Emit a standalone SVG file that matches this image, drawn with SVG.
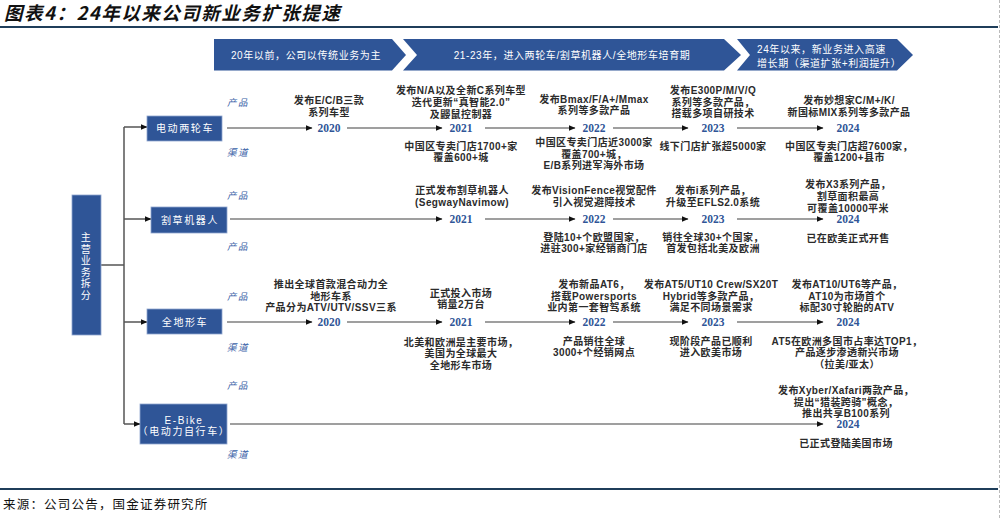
<svg xmlns="http://www.w3.org/2000/svg" width="1001" height="519" viewBox="0 0 1001 519">
<defs>
<style>
.t{font-family:"Liberation Sans","Noto Sans CJK SC",sans-serif;font-size:10px;font-weight:bold;fill:#2b2b2b;text-anchor:middle;letter-spacing:0.4px}
.yr{font-family:"Liberation Serif","Noto Sans CJK SC",serif;font-size:11.5px;font-weight:bold;fill:#2F5597;text-anchor:middle}
.lb{font-family:"Noto Sans CJK SC",sans-serif;font-size:9.5px;font-style:italic;fill:#3A62A7;text-anchor:middle;letter-spacing:1.5px}
.nd{fill:#2F5597;stroke:#8FA6CF;stroke-width:0.8}
.nt{font-family:"Liberation Sans","Noto Sans CJK SC",sans-serif;font-size:10px;fill:#fff;text-anchor:middle;letter-spacing:1.6px}
.bn{fill:#2F5597}
.bt{font-family:"Liberation Sans","Noto Sans CJK SC",sans-serif;font-size:10px;fill:#fff;letter-spacing:0.6px}
.ln{stroke:#7F7F7F;stroke-width:1.5;fill:none}
.tr{stroke:#555;stroke-width:1.5;fill:none}
</style>
<marker id="ah" markerUnits="userSpaceOnUse" markerWidth="7" markerHeight="7" refX="6.5" refY="3" orient="auto">
<path d="M0,0 L7,3 L0,6 z" fill="#111"/>
</marker>
</defs>
<rect width="1001" height="519" fill="#fff"/>
<text x="4" y="19.5" style="font-family:'Noto Sans CJK SC',sans-serif;font-size:18.5px;font-weight:bold;font-style:italic;fill:#111;letter-spacing:1.5px">图表4：24年以来公司新业务扩张提速</text>
<line x1="0" y1="27" x2="998" y2="27" stroke="#1F3E5A" stroke-width="2"/>
<line x1="0" y1="489" x2="998" y2="489" stroke="#1F3E5A" stroke-width="2"/>
<line x1="999.5" y1="0" x2="999.5" y2="519" stroke="#BBBBBB" stroke-width="1" stroke-dasharray="3,2"/>
<text x="3" y="509" style="font-family:'Noto Sans CJK SC',serif;font-size:12.5px;fill:#111;letter-spacing:1.2px">来源：公司公告，国金证券研究所</text>

<g id="banners">
<polygon class="bn" points="214,39 392,39 406,55 392,70.5 214,70.5"/>
<text class="bt" x="306" y="58.5" text-anchor="middle">20年以前，公司以传统业务为主</text>
<polygon class="bn" points="403,39 724,39 741,55 724,70.5 403,70.5 417,55"/>
<text class="bt" x="572" y="58.5" text-anchor="middle">21-23年，进入两轮车/割草机器人/全地形车培育期</text>
<polygon class="bn" points="737,39 897,39 913,55 897,70.5 737,70.5 750,55"/>
<text class="bt" x="757" y="53">24年以来，新业务进入高速</text>
<text class="bt" x="757" y="66.5">增长期（渠道扩张+利润提升）</text>
</g>

<g id="connectors">
<polyline class="tr" points="101,265 124,265"/>
<polyline class="tr" points="124,127 124,424"/>
<line class="tr" x1="124" y1="127" x2="147" y2="127" marker-end="url(#ah)"/>
<line class="tr" x1="124" y1="219" x2="151" y2="219" marker-end="url(#ah)"/>
<line class="tr" x1="124" y1="322" x2="147" y2="322" marker-end="url(#ah)"/>
<line class="tr" x1="124" y1="424" x2="140" y2="424" marker-end="url(#ah)"/>

<line class="ln" x1="227" y1="128" x2="312" y2="128" marker-end="url(#ah)"/>
<line class="ln" x1="347" y1="128" x2="442" y2="128" marker-end="url(#ah)"/>
<line class="ln" x1="485" y1="128" x2="575" y2="128" marker-end="url(#ah)"/>
<line class="ln" x1="613" y1="128" x2="688" y2="128" marker-end="url(#ah)"/>
<line class="ln" x1="737" y1="128" x2="823" y2="128" marker-end="url(#ah)"/>

<line class="ln" x1="230" y1="219" x2="442" y2="219" marker-end="url(#ah)"/>
<line class="ln" x1="485" y1="219" x2="575" y2="219" marker-end="url(#ah)"/>
<line class="ln" x1="613" y1="219" x2="688" y2="219" marker-end="url(#ah)"/>
<line class="ln" x1="737" y1="219" x2="823" y2="219" marker-end="url(#ah)"/>

<line class="ln" x1="227" y1="322" x2="312" y2="322" marker-end="url(#ah)"/>
<line class="ln" x1="347" y1="322" x2="442" y2="322" marker-end="url(#ah)"/>
<line class="ln" x1="485" y1="322" x2="575" y2="322" marker-end="url(#ah)"/>
<line class="ln" x1="613" y1="322" x2="688" y2="322" marker-end="url(#ah)"/>
<line class="ln" x1="737" y1="322" x2="823" y2="322" marker-end="url(#ah)"/>

<line class="ln" x1="230" y1="424" x2="823" y2="424" marker-end="url(#ah)"/>
</g>

<g id="node-main">
<rect class="nd" x="72" y="195" width="29" height="140"/>
<text class="nt" x="86.5" y="241" letter-spacing="0">主</text>
<text class="nt" x="86.5" y="252.5" letter-spacing="0">营</text>
<text class="nt" x="86.5" y="264" letter-spacing="0">业</text>
<text class="nt" x="86.5" y="275.5" letter-spacing="0">务</text>
<text class="nt" x="86.5" y="287" letter-spacing="0">拆</text>
<text class="nt" x="86.5" y="298.5" letter-spacing="0">分</text>
</g>

<g id="node-ev">
<rect class="nd" x="147" y="116" width="75" height="25"/>
<text class="nt" x="185" y="132">电动两轮车</text>
</g>
<g id="node-mower">
<rect class="nd" x="151" y="207" width="76" height="26"/>
<text class="nt" x="190" y="223.5">割草机器人</text>
</g>
<g id="node-atv">
<rect class="nd" x="147" y="309" width="75" height="25"/>
<text class="nt" x="185" y="325.5">全地形车</text>
</g>
<g id="node-ebike">
<rect class="nd" x="140" y="404" width="87" height="40"/>
<text class="nt" x="184" y="423.5">E-Bike</text>
<text class="nt" x="184" y="435" letter-spacing="1">（电动力自行车）</text>
</g>

<g id="row-labels">
<text class="lb" x="238" y="106">产品</text>
<text class="lb" x="238" y="156">渠道</text>
<text class="lb" x="238" y="199">产品</text>
<text class="lb" x="238" y="250">产品</text>
<text class="lb" x="238" y="300">产品</text>
<text class="lb" x="238" y="351">渠道</text>
<text class="lb" x="238" y="389">产品</text>
<text class="lb" x="238" y="458">渠道</text>
</g>

<g id="row-ev">
<text class="yr" x="329" y="132">2020</text>
<text class="t" x="329" y="103.5">发布E/C/B三款</text>
<text class="t" x="329" y="115.5">系列车型</text>
<text class="yr" x="461" y="132">2021</text>
<text class="t" x="461" y="93.5">发布N/A以及全新C系列车型</text>
<text class="t" x="461" y="105.5">迭代更新“真智能2.0”</text>
<text class="t" x="461" y="117.5">及鼹鼠控制器</text>
<text class="t" x="461" y="149.5">中国区专卖门店1700+家</text>
<text class="t" x="461" y="160.5">覆盖600+城</text>
<text class="yr" x="594" y="132">2022</text>
<text class="t" x="594" y="102.5">发布Bmax/F/A+/Mmax</text>
<text class="t" x="594" y="113.5">系列等多款产品</text>
<text class="t" x="594" y="145.5">中国区专卖门店近3000家</text>
<text class="t" x="594" y="157.5">覆盖700+城，</text>
<text class="t" x="594" y="168.5">E/B系列进军海外市场</text>
<text class="yr" x="713" y="132">2023</text>
<text class="t" x="713" y="93.5">发布E300P/M/V/Q</text>
<text class="t" x="713" y="105.5">系列等多款产品，</text>
<text class="t" x="713" y="116.5">搭载多项自研技术</text>
<text class="t" x="713" y="149.5">线下门店扩张超5000家</text>
<text class="yr" x="848" y="132">2024</text>
<text class="t" x="849" y="103.5">发布妙想家C/M+/K/</text>
<text class="t" x="849" y="115.5">新国标MIX系列等多款产品</text>
<text class="t" x="849" y="149.5">中国区专卖门店超7600家，</text>
<text class="t" x="849" y="160.5">覆盖1200+县市</text>
</g>

<g id="row-mower">
<text class="yr" x="461" y="223">2021</text>
<text class="t" x="462" y="193.5">正式发布割草机器人</text>
<text class="t" x="462" y="205.5">(SegwayNavimow)</text>
<text class="yr" x="594" y="223">2022</text>
<text class="t" x="594" y="193.5">发布VisionFence视觉配件</text>
<text class="t" x="594" y="205.5">引入视觉避障技术</text>
<text class="t" x="594" y="240.5">登陆10+个欧盟国家，</text>
<text class="t" x="594" y="251.5">进驻300+家经销商门店</text>
<text class="yr" x="713" y="223">2023</text>
<text class="t" x="713" y="193.5">发布i系列产品，</text>
<text class="t" x="713" y="205.5">升级至EFLS2.0系统</text>
<text class="t" x="713" y="240.5">销往全球30+个国家，</text>
<text class="t" x="713" y="251.5">首发包括北美及欧洲</text>
<text class="yr" x="848" y="223">2024</text>
<text class="t" x="848" y="187.5">发布X3系列产品，</text>
<text class="t" x="848" y="200">割草面积最高</text>
<text class="t" x="848" y="211.5">可覆盖10000平米</text>
<text class="t" x="848" y="241.5">已在欧美正式开售</text>
</g>

<g id="row-atv">
<text class="yr" x="329" y="326">2020</text>
<text class="t" x="331" y="287.5">推出全球首款混合动力全</text>
<text class="t" x="331" y="299.5">地形车系</text>
<text class="t" x="331" y="310.5">产品分为ATV/UTV/SSV三系</text>
<text class="yr" x="461" y="326">2021</text>
<text class="t" x="461" y="296.5">正式投入市场</text>
<text class="t" x="461" y="307.5">销量2万台</text>
<text class="t" x="461" y="345.5">北美和欧洲是主要市场，</text>
<text class="t" x="461" y="356.5">美国为全球最大</text>
<text class="t" x="461" y="368.5">全地形车市场</text>
<text class="yr" x="594" y="326">2022</text>
<text class="t" x="594" y="287.5">发布新品AT6，</text>
<text class="t" x="594" y="299.5">搭载Powersports</text>
<text class="t" x="594" y="310.5">业内第一套智驾系统</text>
<text class="t" x="594" y="344.5">产品销往全球</text>
<text class="t" x="594" y="355.5">3000+个经销网点</text>
<text class="yr" x="713" y="326">2023</text>
<text class="t" x="711" y="287.5">发布AT5/UT10 Crew/SX20T</text>
<text class="t" x="711" y="299.5">Hybrid等多款产品，</text>
<text class="t" x="711" y="310.5">满足不同场景需求</text>
<text class="t" x="711" y="344.5">现阶段产品已顺利</text>
<text class="t" x="711" y="355.5">进入欧美市场</text>
<text class="yr" x="848" y="326">2024</text>
<text class="t" x="847" y="287.5">发布AT10/UT6等产品，</text>
<text class="t" x="847" y="299.5">AT10为市场首个</text>
<text class="t" x="847" y="310.5">标配30寸轮胎的ATV</text>
<text class="t" x="847" y="344.5">AT5在欧洲多国市占率达TOP1，</text>
<text class="t" x="847" y="355.5">产品逐步渗透新兴市场</text>
<text class="t" x="847" y="367.5">（拉美/亚太）</text>
</g>

<g id="row-ebike">
<text class="yr" x="848" y="428">2024</text>
<text class="t" x="846" y="393.5">发布Xyber/Xafari两款产品，</text>
<text class="t" x="846" y="405.5">提出“猎装跨骑”概念，</text>
<text class="t" x="846" y="416.5">推出共享B100系列</text>
<text class="t" x="846" y="446.5">已正式登陆美国市场</text>
</g>
</svg>
